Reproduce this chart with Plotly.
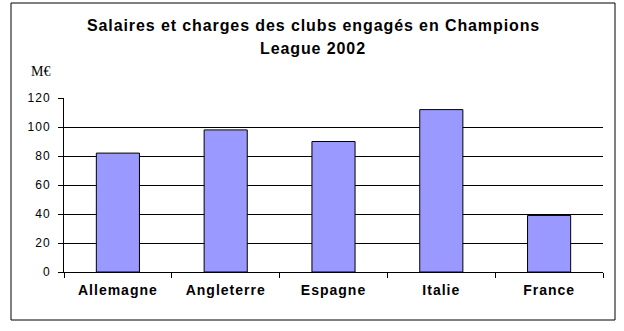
import plotly.graph_objects as go

categories = ["Allemagne", "Angleterre", "Espagne", "Italie", "France"]
values = [82, 98, 90, 112, 39]
y_ticks = [0, 20, 40, 60, 80, 100, 120]
title_lines = ["Salaires et charges des clubs engagés en Champions", "League 2002"]
unit_label = "M€"


def spaced(t, ls):
    return f'<span style="letter-spacing:{ls}px">{t}</span>'


fig = go.Figure()
fig.add_trace(go.Bar(
    x=categories, y=values,
    marker=dict(color="#9999FF", line=dict(color="black", width=1)),
    width=0.4,
))

L, R, T, B = 64, 21, 98, 59
W, H = 624, 331
pw, ph = W - L - R, H - T - B


def px_x(p):
    return (p - L) / pw


def px_y(p):
    return (H - B - p) / ph


fig.update_layout(
    width=W, height=H,
    margin=dict(l=L, r=R, t=T, b=B, pad=0),
    paper_bgcolor="white", plot_bgcolor="white",
    showlegend=False,
    font=dict(family="Liberation Sans, Arial", color="black", size=12),
    xaxis=dict(
        showline=True, linecolor="black", linewidth=1,
        ticks="outside", ticklen=5, tickcolor="black", tickson="boundaries",
        showgrid=False,
        tickmode="array", tickvals=categories,
        ticktext=[spaced(c, 1) for c in categories],
        tickfont=dict(size=14, family="Liberation Sans, Arial", weight="bold"),
        ticklabelstandoff=5,
    ),
    yaxis=dict(
        range=[0, 120], tickmode="array", tickvals=y_ticks,
        ticktext=[spaced(str(v), 1) for v in y_ticks],
        showline=True, linecolor="black", linewidth=1,
        ticks="outside", ticklen=5, tickcolor="black",
        showgrid=True, gridcolor="black", gridwidth=1, zeroline=False,
        tickfont=dict(size=12), ticklabelstandoff=5,
    ),
    shapes=[dict(type="rect", xref="paper", yref="paper",
                 x0=px_x(11), x1=px_x(615), y0=px_y(320), y1=px_y(3),
                 line=dict(color="black", width=1))],
    annotations=[
        dict(text=spaced(title_lines[0], 0.9), xref="paper", yref="paper", x=px_x(313), y=px_y(25),
             showarrow=False, xanchor="center", yanchor="middle",
             font=dict(size=16, family="Liberation Sans, Arial", weight="bold")),
        dict(text=spaced(title_lines[1], 0.9), xref="paper", yref="paper", x=px_x(313), y=px_y(48),
             showarrow=False, xanchor="center", yanchor="middle",
             font=dict(size=16, family="Liberation Sans, Arial", weight="bold")),
        dict(text=unit_label, xref="paper", yref="paper", x=px_x(29), y=px_y(71),
             showarrow=False, xanchor="left", yanchor="middle",
             font=dict(size=14, family="Liberation Serif, Times New Roman")),
    ],
)

fig.write_html("out.html")
